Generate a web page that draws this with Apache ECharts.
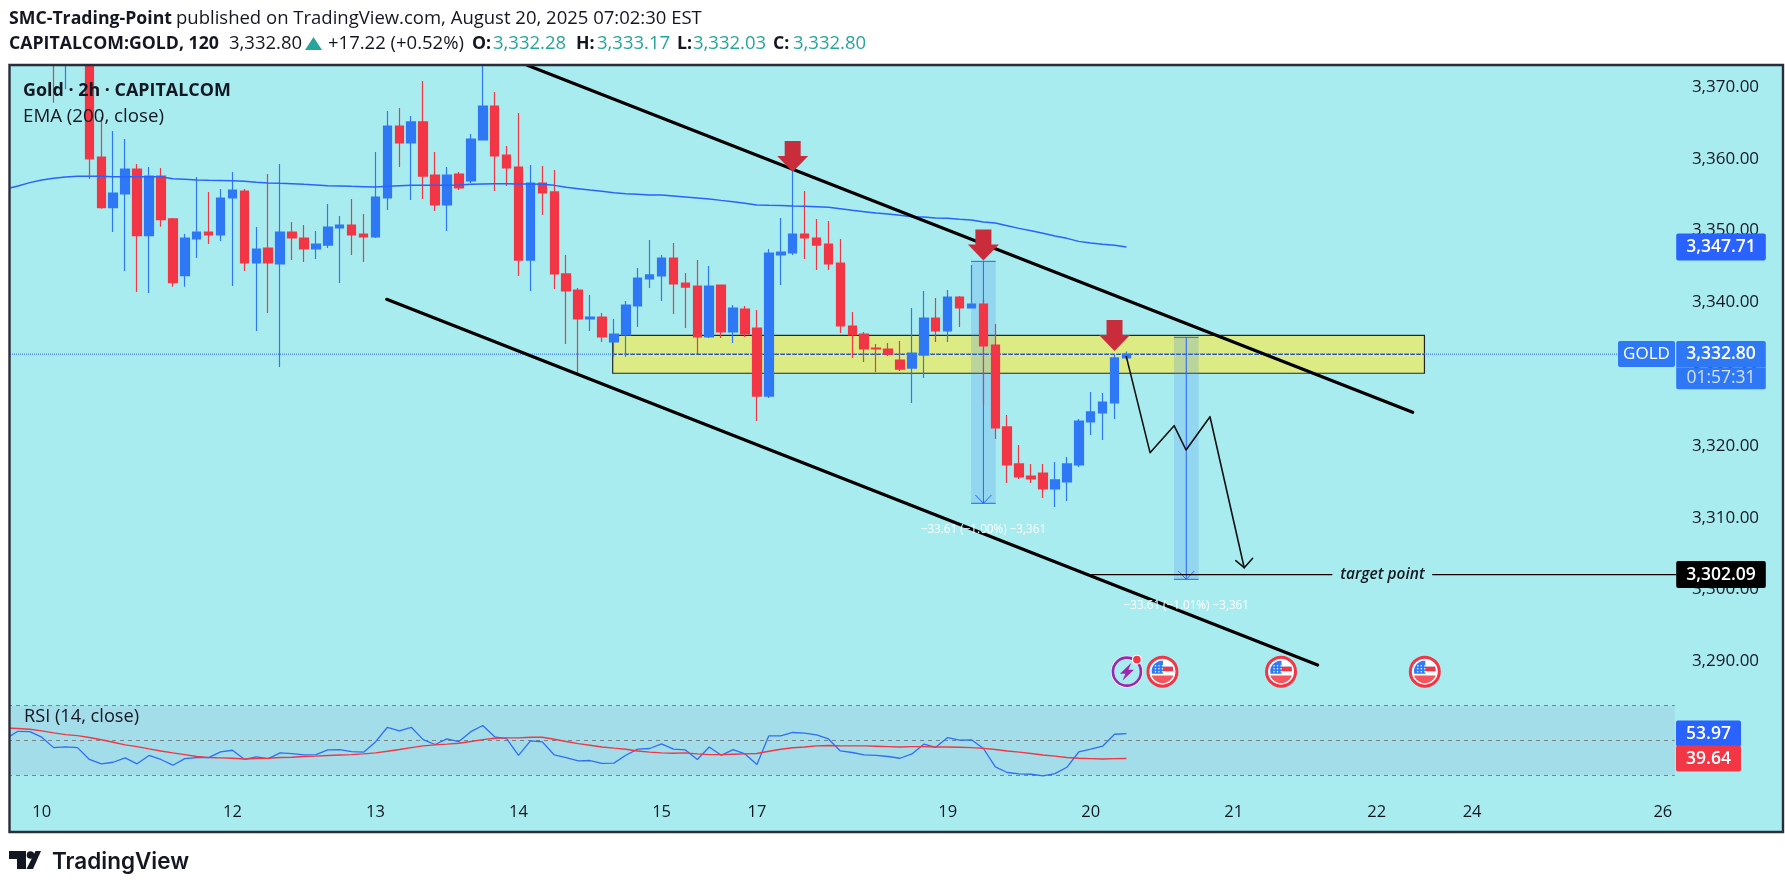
<!DOCTYPE html>
<html><head><meta charset="utf-8">
<style>html,body{margin:0;padding:0;background:#fff}#c{width:1785px;height:888px}</style>
<script src="https://cdn.jsdelivr.net/npm/echarts@6/dist/echarts.min.js"></script>
</head><body><div id="c"></div>
<script>
// ---- data, all in bar slots and prices ----
const slotCount = 149;
const dayTickSlots = [3,19,31,43,55,63,79,91,103,115,123,139];
const dayTickNames = ['10','12','13','14','15','17','19','20','21','22','24','26'];
const priceTicksFrom = 3290;

const opens = [null,null,null,null,3384,3376,3383,3381,3360.25,3353.19,3355.10,3358.58,3349.29,3357.60,3351.62,3343.72,3348.83,3349.80,3349.39,3354.54,3355.51,3345.49,3347.58,3345.35,3349.80,3348.97,3347.44,3347.99,3350.36,3350.78,3349.53,3349.11,3354.54,3364.57,3362.20,3365.13,3357.74,3353.57,3357.88,3356.91,3362.62,3367.35,3360.53,3358.86,3345.90,3356.63,3355.38,3343.96,3341.73,3337.69,3337.97,3334.49,3335.46,3339.50,3343.26,3343.68,3346.18,3342.70,3342.28,3335.18,3342.42,3335.88,3339.08,3336.43,3326.96,3346.60,3346.88,3349.53,3348.97,3348.13,3345.49,3336.71,3335.60,3333.65,3333.51,3331.98,3330.86,3332.67,3337.83,3336.02,3340.75,3339.22,3339.78,3334.07,3322.65,3317.50,3315.82,3316.24,3314.01,3314.99,3317.36,3323.34,3324.60,3325.99,3332.28];
const closes = [null,null,null,null,3380,3381,3381,3360.0,3353.19,3355.24,3358.58,3349.29,3357.60,3351.52,3342.75,3348.97,3349.80,3349.39,3354.54,3355.65,3345.49,3347.44,3345.49,3349.80,3348.97,3347.44,3348.13,3350.50,3350.78,3349.39,3349.11,3354.68,3364.57,3362.20,3365.13,3357.60,3353.57,3357.74,3355.93,3362.76,3367.35,3360.39,3358.72,3345.90,3356.63,3355.24,3343.96,3341.59,3337.69,3337.97,3335.18,3335.60,3339.64,3343.40,3343.82,3346.18,3342.56,3342.14,3335.18,3342.28,3335.88,3339.22,3335.60,3326.96,3346.88,3347.02,3349.53,3348.97,3347.99,3345.35,3336.71,3335.46,3333.51,3333.51,3332.81,3330.72,3332.95,3337.83,3336.02,3340.75,3339.22,3339.78,3333.93,3322.51,3317.36,3315.68,3315.41,3314.01,3315.27,3317.50,3323.48,3324.74,3326.13,3332.26,3332.80];
const lows = [null,null,null,null,3367.8,3369.67,3375,3357.2,3353.05,3349.80,3344.37,3341.45,3341.31,3350.55,3342.19,3342.19,3346.18,3348.13,3348.55,3342.28,3344.37,3336.02,3338.52,3331.00,3345.90,3345.63,3346.04,3347.58,3342.70,3346.60,3345.63,3348.97,3352.87,3358.86,3354.26,3354.40,3352.73,3349.94,3355.65,3356.63,3362.62,3355.51,3356.21,3343.68,3341.59,3352.17,3341.87,3334.20,3329.75,3336.02,3334.49,3332.44,3332.44,3336.57,3342.01,3340.19,3338.38,3336.43,3332.81,3335.04,3335.04,3334.34,3335.18,3323.48,3326.68,3342.42,3346.60,3346.04,3344.51,3344.51,3335.74,3332.26,3331.70,3330.31,3332.53,3330.44,3325.99,3329.47,3334.48,3334.48,3336.57,3339.22,3325.71,3320.98,3314.85,3315.41,3314.85,3312.76,3311.51,3312.34,3317.08,3321.53,3320.84,3323.76,3332.03];
const highs = [null,null,null,null,3386,3383,3385,3383,3365.82,3363.87,3362.76,3359.28,3358.86,3358.72,3351.75,3349.53,3357.47,3355.38,3355.79,3358.16,3355.79,3350.50,3357.88,3359.28,3351.20,3350.78,3349.94,3353.70,3352.03,3354.40,3352.31,3360.95,3366.66,3367.07,3365.96,3370.84,3360.95,3358.86,3358.16,3363.45,3374.5,3369.30,3361.78,3366.38,3359.14,3359.0,3358.44,3346.60,3342.01,3341.03,3338.52,3337.69,3340.20,3344.79,3348.69,3346.60,3348.27,3344.09,3345.90,3345.07,3342.42,3339.64,3339.50,3338.94,3347.44,3351.75,3358.44,3355.51,3351.61,3351.34,3348.83,3338.66,3335.88,3334.20,3334.34,3334.62,3339.22,3341.59,3340.61,3341.73,3340.89,3345.21,3340.47,3337.0,3324.32,3320.14,3317.50,3317.50,3317.77,3318.47,3323.76,3327.52,3327.38,3332.82,3333.17];

const ema200 = [3355.79,3356.21,3356.68,3357.05,3357.28,3357.47,3357.56,3357.56,3357.56,3357.51,3357.51,3357.51,3357.51,3357.51,3357.23,3357.14,3357.05,3357.00,3356.98,3356.95,3356.86,3356.72,3356.63,3356.58,3356.54,3356.44,3356.35,3356.26,3356.21,3356.16,3356.12,3356.07,3356.16,3356.26,3356.30,3356.30,3356.30,3356.30,3356.35,3356.44,3356.49,3356.54,3356.54,3356.49,3356.49,3356.44,3356.30,3356.03,3355.84,3355.65,3355.47,3355.28,3355.14,3355.05,3354.96,3354.96,3354.82,3354.68,3354.54,3354.40,3354.21,3354.03,3353.80,3353.56,3353.52,3353.50,3353.43,3353.38,3353.33,3353.24,3353.05,3352.82,3352.64,3352.45,3352.31,3352.13,3351.94,3351.89,3351.75,3351.71,3351.57,3351.48,3351.20,3351.06,3350.69,3350.31,3349.99,3349.62,3349.25,3348.92,3348.50,3348.27,3348.09,3347.95,3347.71];

const rsi14 = [51.1,55.3,55.1,51.9,45.9,46.3,45.9,39.1,36.6,37.5,40.0,36.6,41.4,39.1,35.8,39.6,40.2,40.2,43.5,44.4,39.2,40.6,39.6,42.9,42.5,41.7,41.9,44.6,44.8,43.6,43.3,49.2,57.6,55.5,57.6,50.5,47.7,50.9,49.4,55.1,58.6,52.1,51.1,41.4,49.8,49.2,41.7,40.2,38.3,38.5,36.8,37.0,41.5,45.0,45.4,48.1,45.0,44.6,39.1,46.3,41.5,44.8,42.3,36.2,52.7,52.7,54.6,54.2,53.2,50.9,44.0,43.1,41.7,41.5,40.8,39.8,42.3,47.9,46.1,51.7,50.2,50.4,45.4,34.8,31.6,30.8,30.6,29.7,31.0,34.6,43.4,45.0,46.7,53.6,53.97];
const rsiMa = [57.2,56.9,56.5,55.5,54.4,53.4,52.8,51.7,50.4,49.0,47.5,46.5,45.2,44.0,42.9,41.9,40.8,40.2,40.0,39.8,39.4,39.6,39.8,40.2,40.4,40.8,41.0,41.4,41.7,41.9,42.3,42.9,43.8,44.8,45.9,46.9,47.5,47.9,48.4,49.4,50.5,51.3,51.5,51.5,51.9,51.9,50.7,49.4,48.2,47.3,46.3,45.6,45.0,44.0,43.3,42.9,42.7,42.9,42.3,41.9,41.9,42.1,42.3,42.5,43.8,45.0,45.8,46.3,46.9,47.1,46.9,46.9,46.9,46.7,46.5,46.3,46.5,46.5,46.3,46.3,46.1,45.9,45.5,44.8,44.0,43.3,42.5,41.7,41.0,40.2,39.8,39.6,39.4,39.6,39.64];

const channelUpper = [[43.69,3373.06],[118.01,3324.69]];
const channelLower = [[31.94,3340.43],[110.04,3289.50]];
const zoneBox = [50.9,3335.42,119.0,3330.13];
const measureSlots = [82,99.02];
const measureTops = [3345.72,3335.14];
const measureBottoms = [3312.02,3301.43];
const measureTexts = ['\u221233.61 (\u22121.00%) \u22123,361','\u221233.61 (\u22121.01%) \u22123,361'];
const measureTextPrices = [3308.3,3297.76];
const projection = [[93.99,3332.44],[95.98,3319.07],[98.0,3322.83],[99.0,3319.44],[101.01,3324.08],[103.88,3303.05]];
const projectionHead = [[103.17,3304.03],[103.88,3303.05],[104.59,3304.36]];
const targetPrice = 3302.09;
const targetSpans = [[91.1,111.24],[119.69,140.1]];
const arrowSlots = [66,82,93];
const arrowPrices = [3360.32,3347.99,3335.39];
const flagSlots = [97.02,106.97,119.03];
const boltSlot = 94.04;
const eventPrice = 3288.57;
const lastPrice = 3332.80, emaLast = 3347.71, rsiLast = 53.97, rsiMaLast = 39.64;
const rsiLevels = [70,50,30];

// ---- page geometry ----
const F = '"Open Sans"';
const INK = '#131722', UP = '#2f78f5', DOWN = '#f23645', TEAL = '#26a69a';
const fmt = v => v.toLocaleString('en-US',{minimumFractionDigits:2,maximumFractionDigits:2});
const slots = Array.from({length:slotCount},(_,i)=>{const j=dayTickSlots.indexOf(i);return j<0?'':dayTickNames[j];});
const candles = opens.map((o,i)=>[o,closes[i],lows[i],highs[i]]);
const slotAxis = {type:'value',min:-0.5,max:slotCount-0.5,show:false};
const PANEL = {left:0,width:slotCount*11.92};
const HIDDEN_MARK = {color:'transparent',opacity:1};

function draw(name,pts,width,color,z,extra){
  return Object.assign({name,type:'line',xAxisIndex:1,yAxisIndex:0,data:pts,showSymbol:false,symbol:'none',silent:true,z,
    lineStyle:{width,color,cap:'round',join:'round'}},extra||{});
}
function tag(slot,price,text,bg,w,h,opts){
  return {value:[slot,price],label:Object.assign({show:true,position:'inside',formatter:text,backgroundColor:bg,width:w,height:h,lineHeight:h,
    align:'center',verticalAlign:'middle',color:'#fff',fontFamily:F,fontSize:17.5,fontWeight:600,borderRadius:2},opts||{})};
}
function plainText(slot,price,text,opts){
  return {value:[slot,price],label:Object.assign({show:true,position:'inside',formatter:text,fontFamily:F,align:'center',verticalAlign:'middle'},opts)};
}
function txt(x,y,text,font,fill,z){
  return {type:'text',z:z||95,silent:true,style:{text,x,y,font:font+' '+F,fill,verticalAlign:'middle',align:'left'}};
}
function arc(r,a0,a1,n){const p=[];for(let i=0;i<=n;i++){const a=(a0+(a1-a0)*i/n)*Math.PI/180;p.push([r*Math.cos(a),r*Math.sin(a)]);}return p;}

const renderBox = (params,api)=>{
  const a=api.coord([api.value(0),api.value(1)]), b=api.coord([api.value(2),api.value(3)]), midY=(a[1]+b[1])/2;
  return {type:'group',children:[
    {type:'rect',shape:{x:a[0],y:a[1],width:b[0]-a[0],height:b[1]-a[1]},style:{fill:'#dceb84',stroke:'#24282e',lineWidth:1.2}},
    {type:'line',shape:{x1:a[0],y1:midY,x2:b[0],y2:midY},style:{stroke:'#1c1c1c',lineWidth:1,lineDash:[4,2]}}
  ]};
};
const renderMeasure = (params,api)=>{
  const s=api.value(0), half=1.036;
  const a=api.coord([s-half,api.value(1)]), b=api.coord([s+half,api.value(2)]), cx=api.coord([s,api.value(1)])[0];
  const st={stroke:'#2962ff',lineWidth:1,fill:null};
  return {type:'group',children:[
    {type:'rect',shape:{x:a[0],y:a[1],width:b[0]-a[0],height:b[1]-a[1]},style:{fill:'rgba(69,136,240,0.22)'}},
    {type:'line',shape:{x1:cx,y1:a[1],x2:cx,y2:b[1]},style:st},
    {type:'line',shape:{x1:a[0],y1:a[1],x2:b[0],y2:a[1]},style:st},
    {type:'line',shape:{x1:a[0],y1:b[1],x2:b[0],y2:b[1]},style:st},
    {type:'polyline',shape:{points:[[cx-8,b[1]-8.3],[cx,b[1]],[cx+8,b[1]-8.3]]},style:st}
  ]};
};
const renderEvent = (params,api)=>{
  const c=api.coord([api.value(0),api.value(1)]);
  if(api.value(2)===1){
    const dots=[];[-7,-3.5,0].forEach(x=>[-6,-3,0].forEach(y=>dots.push({type:'circle',shape:{cx:x,cy:y,r:0.75},style:{fill:'#fff'}})));
    return {type:'group',x:c[0],y:c[1],children:[
      {type:'circle',shape:{cx:0,cy:0,r:14.5},style:{fill:'#fff',stroke:DOWN,lineWidth:3}},
      {type:'polygon',shape:{points:[[0.5,-10.8],[0.5,-5],[10.6,-5],[10.6,-1],[0.5,-1]].concat([[0.5,2],[-10.6,2]],arc(11,-170,-90,8))},style:{fill:'#2f7cf6'}},
      {type:'polygon',shape:{points:[[0.5,-5],[10,-5],[11,-0.5],[0.5,-0.5]]},style:{fill:DOWN}},
      {type:'polygon',shape:{points:arc(11.5,20,160,12)},style:{fill:'#f4555f'}}
    ].concat(dots)};
  }
  return {type:'group',x:c[0],y:c[1],children:[
    {type:'circle',shape:{cx:0,cy:0,r:16},style:{fill:'#fff'}},
    {type:'circle',shape:{cx:0,cy:0,r:14},style:{fill:'#a9ecf0',stroke:'#9c27b0',lineWidth:2.6}},
    {type:'polygon',shape:{points:[[4.5,-9],[-7,2],[-1.5,2],[-4.5,9],[7,-2],[1.5,-2]]},style:{fill:'#9c27b0'}},
    {type:'circle',shape:{cx:10,cy:-12,r:5},style:{fill:'#fff'}},
    {type:'circle',shape:{cx:10,cy:-12,r:3.8},style:{fill:DOWN}}
  ]};
};

const series = [
  {name:'zone',type:'custom',xAxisIndex:1,yAxisIndex:0,renderItem:renderBox,data:[zoneBox],z:3,silent:true,clip:false},
  {name:'measure',type:'custom',xAxisIndex:1,yAxisIndex:0,renderItem:renderMeasure,
    data:measureSlots.map((s,i)=>[s,measureTops[i],measureBottoms[i]]),z:4,silent:true,clip:false},
  draw('lastPriceLine',[[-0.5,lastPrice],[135.3,lastPrice]],1,'#2962ff',5,{lineStyle:{width:1,color:'#2962ff',type:'dotted'}}),
  {name:'GOLD',type:'candlestick',xAxisIndex:0,yAxisIndex:0,data:candles,barWidth:9,z:6,silent:true,clip:true,
    itemStyle:{color:UP,color0:DOWN,borderColor:UP,borderColor0:DOWN,borderWidth:1.2}},
  {name:'EMA',type:'line',xAxisIndex:0,yAxisIndex:0,data:ema200,showSymbol:false,symbol:'none',z:7,silent:true,lineStyle:{width:1.5,color:'#2962ff'}},
  draw('channelUpper',channelUpper,3.2,'#000',8),
  draw('channelLower',channelLower,3.2,'#000',8),
  draw('projection',projection,1.6,'#111',8),
  draw('projectionHead',projectionHead,1.6,'#111',8),
  draw('target1',targetSpans[0].map(s=>[s,targetPrice]),1.2,'#000',8),
  draw('target2',targetSpans[1].map(s=>[s,targetPrice]),1.2,'#000',8),
  {name:'arrows',type:'scatter',xAxisIndex:1,yAxisIndex:0,data:arrowSlots.map((s,i)=>[s,arrowPrices[i]]),z:9,silent:true,
    symbol:'path://M7.5 0H23.5V15H31L15.5 31L0 15H7.5Z',symbolSize:[31,31],itemStyle:{color:'#c92c3b',opacity:1}},
  {name:'events',type:'custom',xAxisIndex:1,yAxisIndex:0,renderItem:renderEvent,
    data:[[boltSlot,eventPrice,0]].concat(flagSlots.map(s=>[s,eventPrice,1])),z:9,silent:true,clip:false},
  {name:'notes',type:'scatter',xAxisIndex:1,yAxisIndex:0,symbolSize:1,itemStyle:HIDDEN_MARK,z:10,silent:true,clip:false,
    data:measureSlots.map((s,i)=>plainText(s,measureTextPrices[i],measureTexts[i],{color:'#fff',fontSize:11.7,fontWeight:500}))
      .concat([plainText(115.48,targetPrice,'target point',{color:'#131722',fontSize:15.5,fontStyle:'italic',fontWeight:600})])},
  {name:'priceTags',type:'scatter',xAxisIndex:1,yAxisIndex:0,symbolSize:1,itemStyle:HIDDEN_MARK,z:50,silent:true,clip:false,
    data:[
      tag(143.88,emaLast,fmt(emaLast),'#2962ff',89.6,27),
      tag(143.88,lastPrice,fmt(lastPrice),UP,89.6,26,{borderRadius:[2,2,0,0]}),
      tag(143.88,3329.43,'01:57:31',UP,89.6,22,{borderRadius:[0,0,2,2],color:'#d3e1fa',fontWeight:500}),
      tag(137.63,lastPrice,'GOLD',UP,57,26,{fontWeight:500,fontSize:17}),
      tag(143.88,targetPrice,fmt(targetPrice),'#000',89.6,27)
    ]},
  {name:'RSI',type:'line',xAxisIndex:2,yAxisIndex:1,data:rsi14.map((v,i)=>[i,v]),showSymbol:false,symbol:'none',z:7,silent:true,
    lineStyle:{width:1.3,color:'#2f6ff5'},
    markArea:{silent:true,z:1,itemStyle:{color:'#a3dde9'},data:[[{coord:[-0.5,rsiLevels[0]]},{coord:[140,rsiLevels[2]]}]]},
    markLine:{silent:true,symbol:'none',z:2,label:{show:false},lineStyle:{color:'#7b8288',width:1,type:[4,4]},
      data:rsiLevels.map(l=>[{coord:[-0.5,l]},{coord:[140,l]}])}},
  {name:'RSI MA',type:'line',xAxisIndex:2,yAxisIndex:1,data:rsiMa.map((v,i)=>[i,v]),showSymbol:false,symbol:'none',z:7,silent:true,
    lineStyle:{width:1.4,color:DOWN}},
  {name:'rsiTags',type:'scatter',xAxisIndex:2,yAxisIndex:1,symbolSize:1,itemStyle:HIDDEN_MARK,z:50,silent:true,clip:false,
    data:[tag(142.83,rsiLast,String(rsiLast),'#2962ff',65,26),tag(142.83,rsiMaLast,String(rsiMaLast),DOWN,65,26)]}
];

const B = '700 17.7px', R = '400 18.5px';
const line2 = [
  [9,'CAPITALCOM:GOLD, 120',B,INK],[229,'3,332.80',R,INK],[328,'+17.22 (+0.52%)',R,INK],
  [472,'O:',B,INK],[493,'3,332.28',R,TEAL],[576,'H:',B,INK],[597,'3,333.17',R,TEAL],
  [677,'L:',B,INK],[693,'3,332.03',R,TEAL],[773,'C:',B,INK],[793,'3,332.80',R,TEAL]
];
const graphic = [
  {type:'rect',z:-10,silent:true,shape:{x:9,y:65,width:1774,height:767},style:{fill:'#a9ecf0'}},
  {type:'rect',z:90,silent:true,shape:{x:0,y:60,width:9,height:780},style:{fill:'#fff'}},
  {type:'rect',z:90,silent:true,shape:{x:0,y:0,width:1785,height:65},style:{fill:'#fff'}},
  {type:'rect',z:91,silent:true,shape:{x:9.5,y:65,width:1773.5,height:767},style:{fill:null,stroke:'#2a2e39',lineWidth:2.4}},
  txt(9,18.5,'SMC-Trading-Point',B,INK),
  txt(176,18.5,'published on TradingView.com, August 20, 2025 07:02:30 EST',R,INK),
  {type:'polygon',z:95,silent:true,shape:{points:[[313.5,37],[322,50],[305,50]]},style:{fill:TEAL}},
  txt(23,90.7,'Gold \u00b7 2h \u00b7 CAPITALCOM','700 17.9px',INK),
  txt(23,116.7,'EMA (200, close)','400 18.7px',INK),
  txt(24,717,'RSI (14, close)','400 18.2px',INK),
  {type:'polygon',z:95,silent:true,shape:{points:[[9,851],[26,851],[26,869],[17,869],[17,859],[9,859]]},style:{fill:INK}},
  {type:'circle',z:95,silent:true,shape:{cx:30.5,cy:855,r:3.8},style:{fill:INK}},
  {type:'polygon',z:95,silent:true,shape:{points:[[35.5,851],[41,851],[33,869],[26.5,869]]},style:{fill:INK}},
  {type:'text',z:95,silent:true,style:{text:'TradingView',x:52,y:862,font:'600 22.5px Inter',fill:INK,verticalAlign:'middle'}}
].concat(line2.map(l=>txt(l[0],44,l[1],l[2],l[3])));

const chart = echarts.init(document.getElementById('c'),null,{renderer:'canvas'});
chart.setOption({
  animation:false,backgroundColor:'#fff',
  grid:[
    Object.assign({top:66,height:739},PANEL),
    Object.assign({top:688.3,height:104.4},PANEL)
  ],
  xAxis:[
    {type:'category',gridIndex:0,data:slots,boundaryGap:true,axisLine:{show:false},axisTick:{show:false},splitLine:{show:false},
      axisLabel:{interval:0,margin:0,hideOverlap:false,color:INK,fontFamily:F,fontSize:16.5,lineHeight:15}},
    Object.assign({gridIndex:0},slotAxis),
    Object.assign({gridIndex:1},slotAxis)
  ],
  yAxis:[
    {type:'value',gridIndex:0,position:'right',min:3270,max:3372.925,interval:10,scale:true,axisLine:{show:false},axisTick:{show:false},splitLine:{show:false},
      axisLabel:{inside:true,margin:17,showMaxLabel:false,color:INK,fontFamily:F,fontSize:17,formatter:v=>v>=priceTicksFrom&&v%10===0?fmt(v):''}},
    {type:'value',gridIndex:1,min:20,max:80,show:false,splitLine:{show:false}}
  ],
  series,graphic
});
</script></body></html>
